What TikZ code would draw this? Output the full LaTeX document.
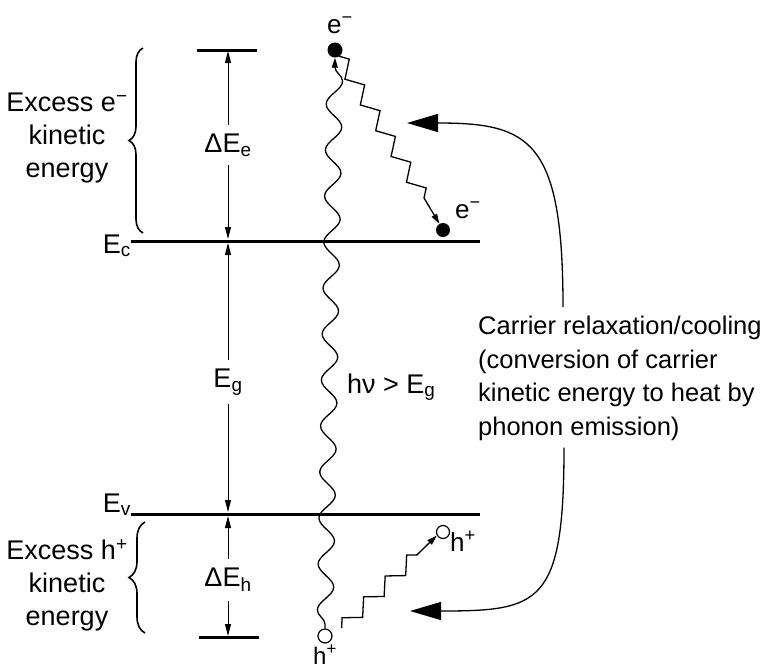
\documentclass[tikz,border=0pt]{standalone}
\usepackage{fontspec}
\setmainfont{Liberation Sans}
\usetikzlibrary{arrows.meta,positioning,decorations.pathmorphing,decorations.pathreplacing}

\begin{document}
\begin{tikzpicture}[x=1pt,y=-1pt]
  \tikzset{
    level/.style={line width=3pt},
    dimarrow/.style={line width=1pt,{Triangle[length=12pt,width=6pt]}-{Triangle[length=12pt,width=6pt]}},
    dimlabel/.style={fill=white,inner xsep=1pt,inner ysep=9pt,font=\fontsize{27}{30}\selectfont},
    caption/.style={align=center,font=\fontsize{27}{33}\selectfont},
    tag/.style={inner sep=0pt,anchor=base west,font=\fontsize{26}{30}\selectfont},
    photon/.style={line width=1.3pt,decorate,decoration={snake,segment length=46pt,amplitude=8pt,pre length=4pt,post length=9pt}},
    phonon/.style={line width=1.3pt,decorate,decoration={zigzag,segment length=30pt,amplitude=7pt,post length=16pt}},
    electron/.style={circle,fill=black,inner sep=0pt,minimum size=15pt},
    hole/.style={circle,draw,line width=1.2pt,fill=white,inner sep=0pt,minimum size=14pt},
    cooling/.style={line width=1.3pt,-{Triangle[length=31pt,width=18pt]}}
  }
  \useasboundingbox (0,0) rectangle (763,670);

  % band edges and limits
  \coordinate (ecL) at (131,241);
  \coordinate (ecR) at (480,241);
  \coordinate (evL) at (131,514);
  \coordinate (evR) at (480,514);
  \draw[level] (ecL) -- (ecR);
  \draw[level] (evL) -- (evR);
  \draw[level] (197,50) -- (257,50);
  \draw[level] (199,637) -- (259,637);
  \node[tag,anchor=base east,font=\fontsize{27}{30}\selectfont] (Ec) at (ecL) [yshift=-12pt] {E\textsubscript{c}};
  \node[tag,anchor=base east,font=\fontsize{27}{30}\selectfont] (Ev) at (evL) [yshift=2pt] {E\textsubscript{v}};

  % energy spacings
  \coordinate (tbar) at (228,51);
  \coordinate (ecA) at (228,239);
  \coordinate (ecB) at (228,243);
  \coordinate (evA) at (228,512);
  \coordinate (evB) at (228,516);
  \coordinate (bbar) at (228,636);
  \draw[dimarrow] (tbar) -- (ecA);
  \draw[dimarrow] (ecB) -- (evA);
  \draw[dimarrow] (evB) -- (bbar);
  \node[dimlabel] (dEe) at (228,145) {ΔE\textsubscript{e}};
  \node[dimlabel] (Eg) at (228,382) {E\textsubscript{g}};
  \node[dimlabel] (dEh) at (228,580) {ΔE\textsubscript{h}};

  % braces
  \draw[line width=1.6pt,decorate,decoration={brace,amplitude=14pt}] (143,233) -- (143,48);
  \draw[line width=1.6pt,decorate,decoration={brace,amplitude=16pt}] (145,633) -- (145,522);
  \node[caption] (xse) at (67,138) {Excess e\textsuperscript{−}\\kinetic\\energy};
  \node[caption] (xsh) at (67,585) {Excess h\textsuperscript{+}\\kinetic\\energy};

  % carriers
  \node[electron] (etop) at (335,50) {};
  \node[electron,minimum size=14pt] (ebot) at (443,230) {};
  \node[hole] (hbot) at (325,636) {};
  \node[hole,minimum size=13pt] (htop) at (443,532) {};
  \node[tag] (etopl) at (327,33) {e\textsuperscript{−}};
  \node[tag] (ebotl) at (455,218) {e\textsuperscript{−}};
  \node[tag] (htopl) at (450,551) {h\textsuperscript{+}};
  \node[tag,font=\fontsize{24}{30}\selectfont] (hbotl) at (313,664) {h\textsuperscript{+}};

  % absorption and phonon emission
  \draw[photon,-{Triangle[length=10pt,width=6pt]}] (hbot.north) -- (etop.south);
  \node[tag,font=\fontsize{27}{30}\selectfont] (hnu) at (347,393) {hν > E\textsubscript{g}};
  \draw[phonon,shorten <=2pt,-{Triangle[length=10pt,width=6pt]}] (etop.-55) -- (ebot.120);
  \draw[phonon,-{Triangle[length=10pt,width=6pt]}] ([shift={(9pt,8pt)}]hbot.east) -- (htop.210);

  % relaxation
  \node[anchor=north west,align=left,inner sep=0pt,font=\fontsize{25.5}{33.5}\selectfont]
    (relax) at (478,316) {Carrier relaxation/cooling\\(conversion of carrier\\kinetic energy to heat by\\phonon emission)};
  \coordinate (cooltop) at (407,123);
  \coordinate (coolbot) at (410,611);
  \draw[cooling] ([xshift=85pt,yshift=9pt]relax.north west) .. controls +(0,-167) and +(123,0) .. (cooltop);
  \draw[cooling] ([xshift=86pt,yshift=-7pt]relax.south west) .. controls +(0,157) and +(130,0) .. (coolbot);
\end{tikzpicture}
\end{document}
